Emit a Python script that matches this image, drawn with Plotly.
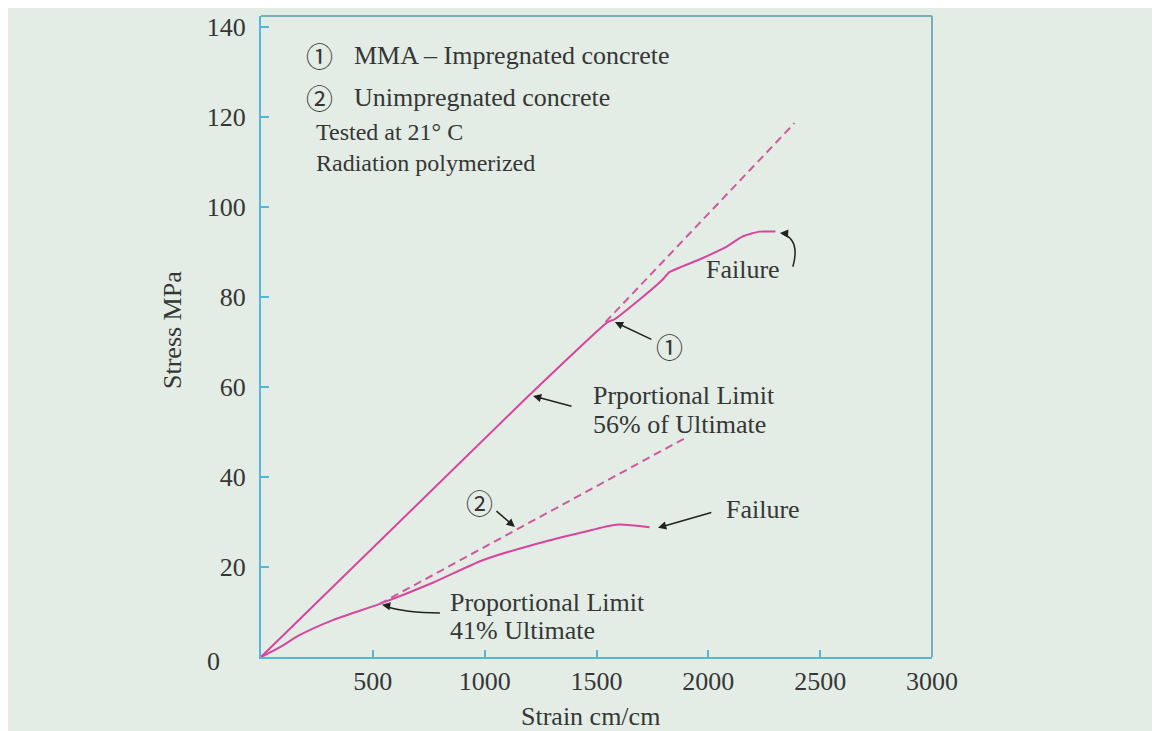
import plotly.graph_objects as go

# ---------------- data ----------------
mma_strain = [0, 1200, 1550, 1580, 1690, 1795, 1826, 1960, 2080, 2152, 2228, 2300]
mma_stress = [0, 58.2, 74.4, 75.0, 79.3, 83.8, 85.5, 88.3, 91.1, 93.4, 94.5, 94.5]

mma_ext_strain = [1540, 2385]
mma_ext_stress = [74.4, 118.6]

unimp_strain = [0, 85, 174, 321, 531, 768, 991, 1214, 1438, 1589, 1737]
unimp_stress = [0, 2.2, 4.9, 8.2, 11.8, 16.5, 21.5, 24.9, 27.7, 29.4, 28.8]

unimp_ext_strain = [531, 1906]
unimp_ext_stress = [11.8, 48.9]

x_ticks = [500, 1000, 1500, 2000, 2500, 3000]
y_ticks = [20, 40, 60, 80, 100, 120, 140]

PINK = "#d8449e"
DASH_PINK = "#cc5a9c"
BLUE = "#56b6d8"
TXT = "#363636"
FONT = "Liberation Serif"
CIRC_FONT = "Noto Sans CJK JP"
FS = 26
CS = 27

fig = go.Figure()
fig.add_trace(go.Scatter(x=mma_strain, y=mma_stress, mode="lines",
                         line=dict(color=PINK, width=2, shape="spline", smoothing=0.5),
                         showlegend=False, hoverinfo="skip"))
fig.add_trace(go.Scatter(x=mma_ext_strain, y=mma_ext_stress, mode="lines",
                         line=dict(color=DASH_PINK, width=2, dash="8px,5px"),
                         showlegend=False, hoverinfo="skip"))
fig.add_trace(go.Scatter(x=unimp_strain, y=unimp_stress, mode="lines",
                         line=dict(color=PINK, width=2, shape="spline", smoothing=0.7),
                         showlegend=False, hoverinfo="skip"))
fig.add_trace(go.Scatter(x=unimp_ext_strain, y=unimp_ext_stress, mode="lines",
                         line=dict(color=DASH_PINK, width=2, dash="8px,5px"),
                         showlegend=False, hoverinfo="skip"))

# ---------------- layout geometry (page has an 8px body margin) ----------------
W, H = 1152, 723
L, T, B = 253, 8, 74
R = W - L - 671
PLOT_L_PAGE, PLOT_B_PAGE, PW, PH = 261, 657, 671, 641


def px_x(px):
    return (px - PLOT_L_PAGE) / PW


def px_y(py):
    return (PLOT_B_PAGE - py) / PH


shapes = [
    dict(type="line", xref="paper", yref="paper", x0=0, x1=1, y0=1, y1=1,
         line=dict(color="#78aeb6", width=2)),
    dict(type="line", xref="paper", yref="paper", x0=1, x1=1, y0=0, y1=1,
         line=dict(color="#78aeb6", width=2)),
    # curved arrow bodies
    dict(type="path", xref="x", yref="y",
         path="M 2378,86.7 Q 2412,92.7 2330,94.1",
         line=dict(color="#222", width=1.5)),
    dict(type="path", xref="x", yref="y",
         path="M 800,9.8 Q 644,9.8 560,11.2",
         line=dict(color="#222", width=1.5)),
]

ann = []


def text(x, y, s, xanchor="left", size=FS, family=FONT):
    ann.append(dict(x=x, y=y, xref="x", yref="y", text=s, showarrow=False,
                    xanchor=xanchor, yanchor="middle", align="left",
                    font=dict(family=family, size=size, color=TXT)))


def arrow(x, y, ax, ay):
    ann.append(dict(x=x, y=y, ax=ax, ay=ay, xref="x", yref="y", axref="x", ayref="y",
                    text="", showarrow=True, arrowhead=2, arrowsize=1.1,
                    arrowwidth=1.5, arrowcolor="#222"))


# header text
text(190, 133.6, "\u2460", size=CS, family=CIRC_FONT)
text(406, 133.6, "MMA \u2013 Impregnated concrete")
text(190, 124.3, "\u2461", size=CS, family=CIRC_FONT)
text(406, 124.3, "Unimpregnated concrete")
text(236, 113.1, "Tested at 21\u00b0 C<br>Radiation polymerized", size=24)

# annotations on the curves
text(2156, 86.0, "Failure", xanchor="center")
arrow(2320, 94.2, 2345, 94.1)

text(1828, 68.9, "\u2460", xanchor="center", size=CS, family=CIRC_FONT)
arrow(1582, 74.4, 1752, 70.4)

text(1475, 58.0, "Prportional Limit")
text(1475, 51.7, "56% of Ultimate")
arrow(1216, 58.0, 1395, 55.6)

text(979, 34.4, "\u2461", xanchor="center", size=CS, family=CIRC_FONT)
arrow(1135, 28.9, 1046, 32.7)

text(2244, 32.7, "Failure", xanchor="center")
arrow(1775, 28.7, 2020, 32.2)

text(835, 12.2, "Proportional Limit")
text(835, 5.9, "41% Ultimate")
arrow(541, 11.6, 575, 11.3)

# corner "0" label, axis titles
ann.append(dict(x=px_x(213), y=px_y(661), xref="paper", yref="paper", text="0",
                showarrow=False, xanchor="center", yanchor="middle",
                font=dict(family=FONT, size=FS, color=TXT)))
ann.append(dict(x=px_x(172), y=px_y(330), xref="paper", yref="paper",
                text="Stress MPa", textangle=-90, showarrow=False,
                xanchor="center", yanchor="middle",
                font=dict(family=FONT, size=FS, color=TXT)))
ann.append(dict(x=px_x(590), y=px_y(716), xref="paper", yref="paper",
                text="Strain cm/cm", showarrow=False, xanchor="center", yanchor="middle",
                font=dict(family=FONT, size=FS, color=TXT)))

fig.update_layout(
    width=W, height=H,
    margin=dict(l=L, r=R, t=T, b=B, autoexpand=False),
    paper_bgcolor="#e3ede5",
    plot_bgcolor="rgba(0,0,0,0)",
    shapes=shapes,
    annotations=ann,
    showlegend=False,
    xaxis=dict(range=[0, 3000], tickvals=x_ticks, ticktext=[str(v) for v in x_ticks],
               showgrid=False, zeroline=False, showline=True, linecolor=BLUE, linewidth=2,
               ticks="inside", ticklen=7, tickcolor=BLUE, tickwidth=1.5, automargin=False,
               tickfont=dict(family=FONT, size=FS, color=TXT), ticklabelstandoff=0),
    yaxis=dict(range=[0, 142.4], tickvals=y_ticks, ticktext=[str(v) for v in y_ticks],
               showgrid=False, zeroline=False, showline=True, linecolor=BLUE, linewidth=2,
               ticks="inside", ticklen=8, tickcolor=BLUE, tickwidth=1.5, automargin=False,
               tickfont=dict(family=FONT, size=FS, color=TXT), ticklabelstandoff=8),
)

fig.write_html("out.html")
